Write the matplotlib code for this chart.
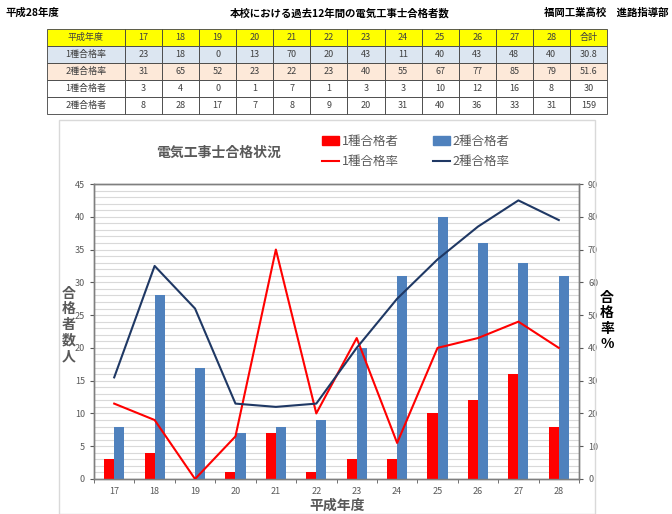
import matplotlib.pyplot as plt
import numpy as np
from matplotlib.patches import Rectangle, Patch
from matplotlib.lines import Line2D

plt.rcParams["font.family"] = ["Noto Sans CJK JP", "DejaVu Sans"]
plt.rcParams["axes.unicode_minus"] = False

years = ["17", "18", "19", "20", "21", "22", "23", "24", "25", "26", "27", "28"]
pass1 = [3, 4, 0, 1, 7, 1, 3, 3, 10, 12, 16, 8]
pass2 = [8, 28, 17, 7, 8, 9, 20, 31, 40, 36, 33, 31]
rate1 = [23, 18, 0, 13, 70, 20, 43, 11, 40, 43, 48, 40]
rate2 = [31, 65, 52, 23, 22, 23, 40, 55, 67, 77, 85, 79]
total_rate1 = "30.8"
total_rate2 = "51.6"
total_pass1 = "30"
total_pass2 = "159"

red = "#FF0000"
blue = "#4F81BD"
navy = "#1F3864"
gray = "#595959"

W, H = 672, 514
fig = plt.figure(figsize=(W / 100, H / 100), dpi=100)

# page header
fig.text(5 / W, 1 - 13 / H, "平成28年度", fontsize=7.5, fontweight="bold", va="center")
fig.text(340 / W, 1 - 13 / H, "本校における過去12年間の電気工事士合格者数", fontsize=7.5,
         fontweight="bold", ha="center", va="center")
fig.text(668 / W, 1 - 13 / H, "福岡工業高校　進路指導部", fontsize=7.5, fontweight="bold",
         ha="right", va="center")

# table
tax = fig.add_axes([47 / W, 1 - 114 / H, 560 / W, 85 / H])
tax.axis("off")
rows = [
    ["平成年度"] + years + ["合計"],
    ["1種合格率"] + [str(v) for v in rate1] + [total_rate1],
    ["2種合格率"] + [str(v) for v in rate2] + [total_rate2],
    ["1種合格者"] + [str(v) for v in pass1] + [total_pass1],
    ["2種合格者"] + [str(v) for v in pass2] + [total_pass2],
]
row_colors = ["#FFFF00", "#DCE6F1", "#FDE9D9", "white", "white"]
colw = [78] + [482 / 13] * 13
tbl = tax.table(cellText=rows, bbox=[0, 0, 1, 1], colWidths=[c / 560 for c in colw],
                cellLoc="center")
tbl.auto_set_font_size(False)
for (r, c), cell in tbl.get_celld().items():
    cell.set_facecolor(row_colors[r])
    cell.set_edgecolor("#404040")
    cell.set_linewidth(0.6)
    cell.get_text().set_fontsize(6.5)
    cell.get_text().set_color("#404040")

# chart frame
fig.patches.append(Rectangle((59 / W, 0), (595 - 59) / W, 1 - 120 / H,
                             transform=fig.transFigure, fill=False,
                             edgecolor="#D9D9D9", linewidth=1))

ax = fig.add_axes([94 / W, 1 - 479 / H, (579 - 94) / W, (479 - 184) / H])
x = np.arange(len(years))
bw = 0.25
ax.bar(x - bw / 2, pass1, bw, color=red, zorder=3)
ax.bar(x + bw / 2, pass2, bw, color=blue, zorder=3)
ax.set_xlim(-0.5, len(years) - 0.5)
ax.set_ylim(0, 45)
ax.set_yticks(np.arange(0, 46, 5))
ax.set_yticks(np.arange(0, 46, 1), minor=True)
ax.grid(True, axis="y", which="both", color="#D9D9D9", linewidth=0.8, zorder=0)
ax.set_axisbelow(True)
ax.set_xticks(x)
ax.set_xticklabels(years)
ax.set_xticks(np.arange(-0.5, len(years), 1), minor=True)
ax.tick_params(axis="x", which="major", length=0, labelsize=6.5, labelcolor=gray, pad=6)
ax.tick_params(axis="x", which="minor", length=3, color=gray)
ax.tick_params(axis="y", which="major", length=3, labelsize=6.5, labelcolor=gray, color=gray)
ax.tick_params(axis="y", which="minor", length=0)
for s in ax.spines.values():
    s.set_color("#7F7F7F")
    s.set_linewidth(1)

ax2 = ax.twinx()
ax2.plot(x, rate1, color=red, linewidth=1.5, zorder=4)
ax2.plot(x, rate2, color=navy, linewidth=1.5, zorder=4)
ax2.set_ylim(0, 90)
ax2.set_yticks(np.arange(0, 91, 10))
ax2.tick_params(axis="y", length=3, labelsize=6.5, labelcolor=gray, color=gray)
for s in ax2.spines.values():
    s.set_color("#7F7F7F")
    s.set_linewidth(1)

fig.text(219 / W, 1 - 153 / H, "電気工事士合格状況", fontsize=10, fontweight="bold",
         color=gray, ha="center", va="center")
fig.text(69 / W, 1 - 325 / H, "合\n格\n者\n数\n人", fontsize=10, fontweight="bold",
         color=gray, ha="center", va="center", linespacing=1.15)
fig.text(607 / W, 1 - 321 / H, "合\n格\n率\n%", fontsize=10, fontweight="bold",
         color="black", ha="center", va="center", linespacing=1.15)
fig.text(337 / W, 1 - 506 / H, "平成年度", fontsize=10, fontweight="bold",
         color=gray, ha="center", va="center")

handles = [Patch(color=red), Line2D([], [], color=red, lw=1.5),
           Patch(color=blue), Line2D([], [], color=navy, lw=1.5)]
labels = ["1種合格者", "1種合格率", "2種合格者", "2種合格率"]
fig.legend(handles, labels, ncol=2, loc="upper left", bbox_to_anchor=(322 / W, 1 - 135 / H),
           frameon=False, fontsize=9, handlelength=1.35, handletextpad=0.25,
           columnspacing=2.7, labelspacing=0.55, labelcolor=gray,
           borderpad=0, borderaxespad=0)

fig.savefig("out.png", dpi=100)
